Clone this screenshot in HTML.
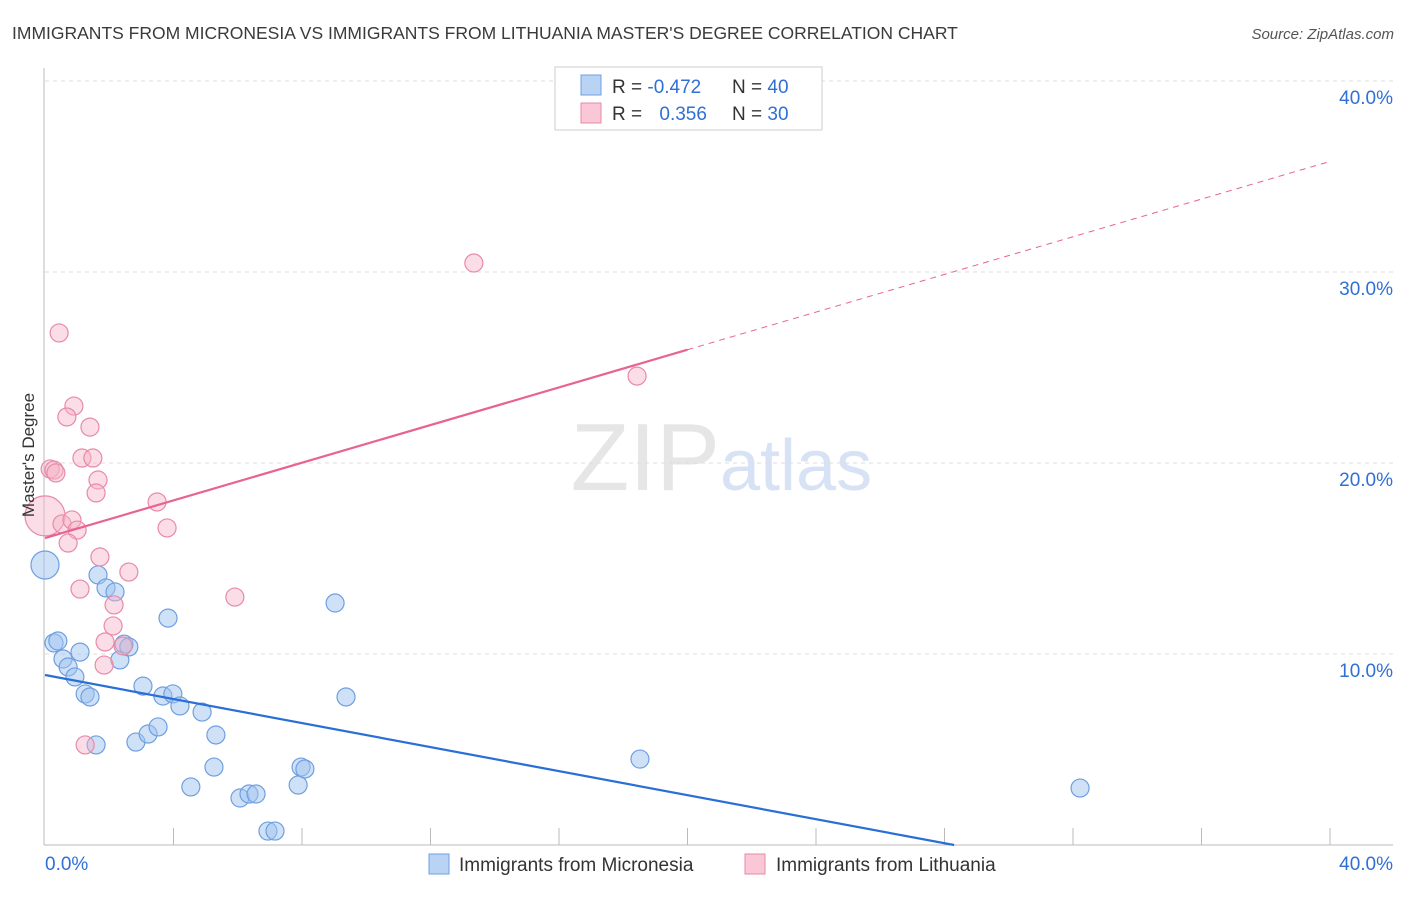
<!DOCTYPE html>
<html><head><meta charset="utf-8"><style>
body{margin:0;background:#fff;font-family:"Liberation Sans",sans-serif}
svg text{font-family:"Liberation Sans",sans-serif}
</style></head><body>
<svg width="1406" height="892" viewBox="0 0 1406 892" xmlns="http://www.w3.org/2000/svg">
<text x="12" y="39" font-size="17.5" fill="#3a3a3a">IMMIGRANTS FROM MICRONESIA VS IMMIGRANTS FROM LITHUANIA MASTER'S DEGREE CORRELATION CHART</text>
<text x="1394" y="39" font-size="15" fill="#555" font-style="italic" text-anchor="end">Source: ZipAtlas.com</text>
<text x="720" y="490" font-size="96" fill="#e6e6e6" font-family="Liberation Serif" text-anchor="end">ZIP</text>
<text x="720" y="490" font-size="72" fill="#d7e3f5">atlas</text>
<g id="grid"></g>
<g id="axes"></g>
<g id="pts"></g>
<g id="lines"></g>
<text transform="translate(34,455) rotate(-90)" font-size="17" fill="#333" text-anchor="middle">Master's Degree</text>
<g>
<rect x="555" y="67" width="267" height="63" fill="#fff" stroke="#ccc"/>
<rect x="581" y="75" width="20" height="20" fill="#b9d3f5" stroke="#6f9fe0"/>
<rect x="581" y="103" width="20" height="20" fill="#f9c7d6" stroke="#e88aa8"/>
<text x="612" y="93" font-size="19" fill="#333">R = <tspan fill="#2f6fd6">-0.472</tspan></text>
<text x="732" y="93" font-size="19" fill="#333">N = <tspan fill="#2f6fd6">40</tspan></text>
<text x="612" y="120" font-size="19" fill="#333">R = <tspan fill="#2f6fd6" dx="12">0.356</tspan></text>
<text x="732" y="120" font-size="19" fill="#333">N = <tspan fill="#2f6fd6">30</tspan></text>
</g>
<g>
<rect x="429" y="854" width="20" height="20" fill="#b9d3f5" stroke="#6f9fe0"/>
<text x="459" y="871" font-size="19" fill="#333">Immigrants from Micronesia</text>
<rect x="745" y="854" width="20" height="20" fill="#f9c7d6" stroke="#e88aa8"/>
<text x="776" y="871" font-size="19" fill="#333">Immigrants from Lithuania</text>
</g>
</svg>
<script>
const blueX=[0,1.65,1.90,2.18,0.28,0.40,0.56,0.72,0.93,1.09,1.25,1.40,2.33,2.46,2.61,3.05,2.83,3.21,3.52,3.67,3.98,4.20,4.89,5.32,3.83,1.59,4.54,5.26,6.07,6.35,6.57,6.94,7.16,7.88,7.97,8.09,9.03,9.37,18.52,32.22];
const blueY=[14.66,14.14,13.46,13.25,10.58,10.68,9.74,9.32,8.80,10.10,7.91,7.75,9.69,10.52,10.37,8.32,5.39,5.81,6.18,7.80,7.91,7.28,6.96,5.76,11.88,5.24,3.04,4.08,2.46,2.67,2.67,0.73,0.73,3.14,4.08,3.98,12.67,7.75,4.50,2.98];
const pinkX=[0,0.44,13.35,18.43,0.90,0.68,1.40,1.15,1.49,0.16,0.28,0.34,1.65,1.59,3.49,0.53,0.84,1.00,0.72,3.80,1.71,2.61,1.09,5.91,2.15,2.12,1.87,2.43,1.84,1.25];
const pinkY=[17.23,26.81,30.47,24.55,22.98,22.41,21.88,20.26,20.26,19.69,19.63,19.48,19.11,18.43,17.96,16.81,17.02,16.49,15.81,16.60,15.08,14.29,13.40,12.98,12.57,11.47,10.63,10.42,9.42,5.24];
const trendIntercept=[8.9,16.07];
const trendSlope=[-0.3145,0.493];
const yTicks=[10,20,30,40];
const xTickLabels=["0.0%","40.0%"];
const NS="http://www.w3.org/2000/svg";
const sx=v=>45+v*32.125, sy=v=>845-v*19.1;
function mk(tag,attrs,parent){const e=document.createElementNS(NS,tag);for(const k in attrs)e.setAttribute(k,attrs[k]);parent.appendChild(e);return e;}
const grid=document.getElementById('grid'),axes=document.getElementById('axes'),pts=document.getElementById('pts'),lines=document.getElementById('lines');
yTicks.forEach(t=>{
 const l=mk('line',{x1:45,x2:1393,y1:sy(t),y2:sy(t),stroke:'#ddd','stroke-dasharray':'4,4'},grid);
 
 
 const tx=mk('text',{x:1393,y:sy(t)+23,'font-size':19,fill:'#2f6fd6','text-anchor':'end'},grid);
 tx.textContent=t.toFixed(1)+'%';
 
 
});
const ya=mk('line',{x1:44,x2:44,y1:68,y2:845,stroke:'#bbb'},axes);


const xa=mk('line',{x1:44,x2:1393,y1:845,y2:845,stroke:'#bbb'},axes);


for(let i=1;i<=10;i++){
 const t=mk('line',{x1:sx(i*4),x2:sx(i*4),y1:828,y2:845,stroke:'#bbb'},axes);
 
 
}
const xl0=mk('text',{x:45,y:870,'font-size':19,fill:'#2f6fd6'},axes);
xl0.textContent=xTickLabels[0];


const xl1=mk('text',{x:1393,y:870,'font-size':19,fill:'#2f6fd6','text-anchor':'end'},axes);
xl1.textContent=xTickLabels[1];


blueX.forEach((x,i)=>{
 const c=mk('circle',{cx:sx(x),cy:sy(blueY[i]),r:i===0?14:9,fill:'rgba(160,196,240,0.5)',stroke:'#6f9fe0','stroke-width':1.2},pts);
 
 
});
pinkX.forEach((x,i)=>{
 const c=mk('circle',{cx:sx(x),cy:sy(pinkY[i]),r:i===0?20:9,fill:'rgba(245,180,200,0.45)',stroke:'#e88aa8','stroke-width':1.2},pts);
 
 
});
const bEnd=-trendIntercept[0]/trendSlope[0];
const bl=mk('line',{x1:sx(0),y1:sy(trendIntercept[0]),x2:sx(bEnd),y2:sy(0),stroke:'#2a6fd6','stroke-width':2.2},lines);


const pl=mk('line',{x1:sx(0),y1:sy(trendIntercept[1]),x2:sx(20),y2:sy(trendIntercept[1]+trendSlope[1]*20),stroke:'#e8648e','stroke-width':2.2},lines);


const pd=mk('line',{x1:sx(20),y1:sy(trendIntercept[1]+trendSlope[1]*20),x2:sx(40),y2:sy(trendIntercept[1]+trendSlope[1]*40),stroke:'#e8648e','stroke-width':1,'stroke-dasharray':'6,5'},lines);


</script>
</body></html>
